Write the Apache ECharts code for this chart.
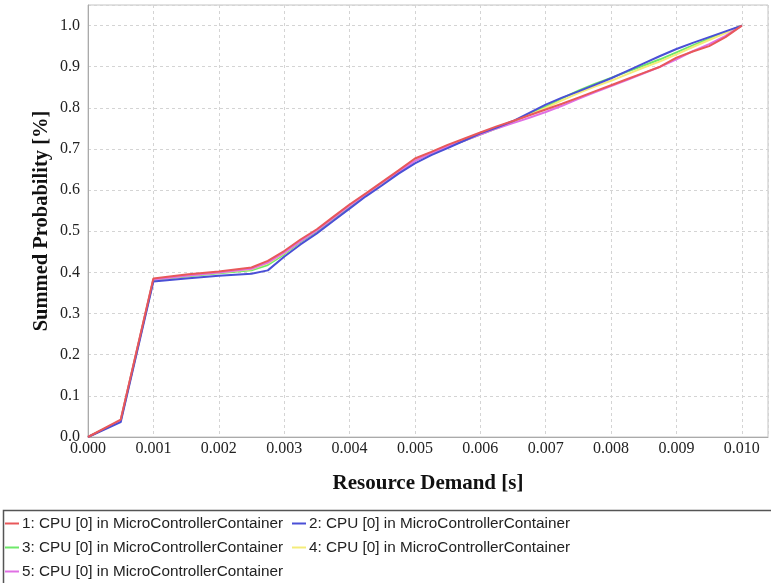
<!DOCTYPE html>
<html>
<head>
<meta charset="utf-8">
<script src="https://cdn.jsdelivr.net/npm/echarts@6/dist/echarts.min.js"></script>
<style>html,body{margin:0;padding:0;background:#fff}#c{width:771px;height:583px}</style>
</head>
<body>
<div id="c"></div>
<script>
const xValues = [0, 0.0005, 0.001, 0.0015, 0.002, 0.0025, 0.00275, 0.003, 0.00325, 0.0035, 0.00375, 0.004, 0.00425, 0.0045, 0.00475, 0.005, 0.00525, 0.0055, 0.00575, 0.006, 0.00625, 0.0065, 0.00675, 0.007, 0.00725, 0.0075, 0.00775, 0.008, 0.00825, 0.0085, 0.00875, 0.009, 0.00925, 0.0095, 0.00975, 0.010];
const seriesNames = ['1: CPU [0] in MicroControllerContainer','2: CPU [0] in MicroControllerContainer','3: CPU [0] in MicroControllerContainer','4: CPU [0] in MicroControllerContainer','5: CPU [0] in MicroControllerContainer'];
const s1 = [0, 0.042, 0.385, 0.395, 0.402, 0.412, 0.428, 0.452, 0.48, 0.505, 0.535, 0.565, 0.592, 0.62, 0.648, 0.677, 0.693, 0.71, 0.725, 0.74, 0.755, 0.768, 0.782, 0.796, 0.81, 0.825, 0.84, 0.855, 0.87, 0.885, 0.9, 0.922, 0.937, 0.95, 0.972, 1.0];
const s2 = [0, 0.036, 0.378, 0.385, 0.392, 0.397, 0.405, 0.438, 0.468, 0.495, 0.525, 0.555, 0.585, 0.612, 0.64, 0.665, 0.685, 0.702, 0.72, 0.738, 0.752, 0.768, 0.788, 0.808, 0.825, 0.84, 0.856, 0.872, 0.89, 0.908, 0.926, 0.943, 0.958, 0.972, 0.986, 1.0];
const s3 = [0, 0.04, 0.382, 0.39, 0.398, 0.405, 0.418, 0.444, 0.474, 0.5, 0.53, 0.56, 0.59, 0.617, 0.645, 0.672, 0.69, 0.705, 0.72, 0.735, 0.75, 0.766, 0.785, 0.803, 0.823, 0.842, 0.858, 0.873, 0.888, 0.903, 0.918, 0.935, 0.952, 0.968, 0.984, 1.0];
const s4 = [0, 0.04, 0.383, 0.392, 0.4, 0.408, 0.422, 0.447, 0.477, 0.503, 0.533, 0.562, 0.59, 0.618, 0.646, 0.674, 0.692, 0.708, 0.723, 0.738, 0.752, 0.767, 0.783, 0.8, 0.818, 0.836, 0.852, 0.866, 0.882, 0.898, 0.913, 0.93, 0.948, 0.965, 0.982, 1.0];
const s5 = [0, 0.04, 0.383, 0.392, 0.4, 0.409, 0.424, 0.448, 0.476, 0.502, 0.532, 0.562, 0.59, 0.618, 0.645, 0.671, 0.69, 0.706, 0.72, 0.735, 0.75, 0.763, 0.776, 0.79, 0.805, 0.822, 0.838, 0.853, 0.868, 0.884, 0.9, 0.918, 0.938, 0.955, 0.975, 1.0];
const allSeries = [s1, s2, s3, s4, s5];
const colors = ['#e8585a', '#4a4fd6', '#6ee86a', '#f4ec7a', '#e070e4'];
const zOrder = [7, 6, 3, 4, 5];

const chart = echarts.init(document.getElementById('c'), null, {renderer: 'canvas'});
const serif = '"Liberation Serif", "Times New Roman", serif';
chart.setOption({
  animation: false,
  color: colors,
  grid: {left: 88, right: 1, top: 5, bottom: 146, show: true, borderColor: '#c4c4c4', borderWidth: 1},
  xAxis: {
    type: 'value', min: 0, max: 0.0104, interval: 0.001,
    name: 'Resource Demand [s]', nameLocation: 'middle', nameGap: 36,
    nameTextStyle: {fontFamily: serif, fontWeight: 'bold', fontSize: 21, color: '#111'},
    axisLine: {show: true, lineStyle: {color: '#aaa'}},
    axisTick: {show: false},
    axisLabel: {fontFamily: serif, fontSize: 16, color: '#222', margin: 4,
      formatter: v => v > 0.01005 ? '' : v.toFixed(3)},
    splitLine: {show: true, lineStyle: {color: '#d4d4d4', type: [3, 3]}}
  },
  yAxis: {
    type: 'value', min: 0, max: 1.05, interval: 0.1,
    name: 'Summed Probability [%]', nameLocation: 'middle', nameGap: 36, nameMoveOverlap: false,
    nameTextStyle: {fontFamily: serif, fontWeight: 'bold', fontSize: 20.5, color: '#111'},
    axisLine: {show: true, lineStyle: {color: '#aaa'}},
    axisTick: {show: false},
    axisLabel: {fontFamily: serif, fontSize: 16, color: '#222', margin: 8,
      formatter: v => v > 1.01 ? '' : v.toFixed(1)},
    splitLine: {show: true, lineStyle: {color: '#d4d4d4', type: [3, 3]}}
  },
  legend: {
    left: 5, top: 516, width: 640, itemGap: 9, itemWidth: 14, itemHeight: 2, icon: 'rect',
    orient: 'horizontal', padding: [0, 0, 0, 0],
    textStyle: {fontFamily: '"Liberation Sans", Arial, sans-serif', fontSize: 15.3, color: '#222', padding: [0,0,0,-2]},
    data: seriesNames
  },
  graphic: [{
    type: 'rect', left: 1, top: 508, shape: {width: 769, height: 80},
    style: {fill: 'none', stroke: '#555', lineWidth: 1.5}, silent: true
  }],
  series: allSeries.map((vals, i) => ({
    name: seriesNames[i], type: 'line', showSymbol: false, z: zOrder[i],
    lineStyle: {width: 2, color: colors[i]},
    itemStyle: {color: colors[i]},
    data: xValues.map((x, j) => [x, vals[j]])
  }))
});
</script>
</body>
</html>
